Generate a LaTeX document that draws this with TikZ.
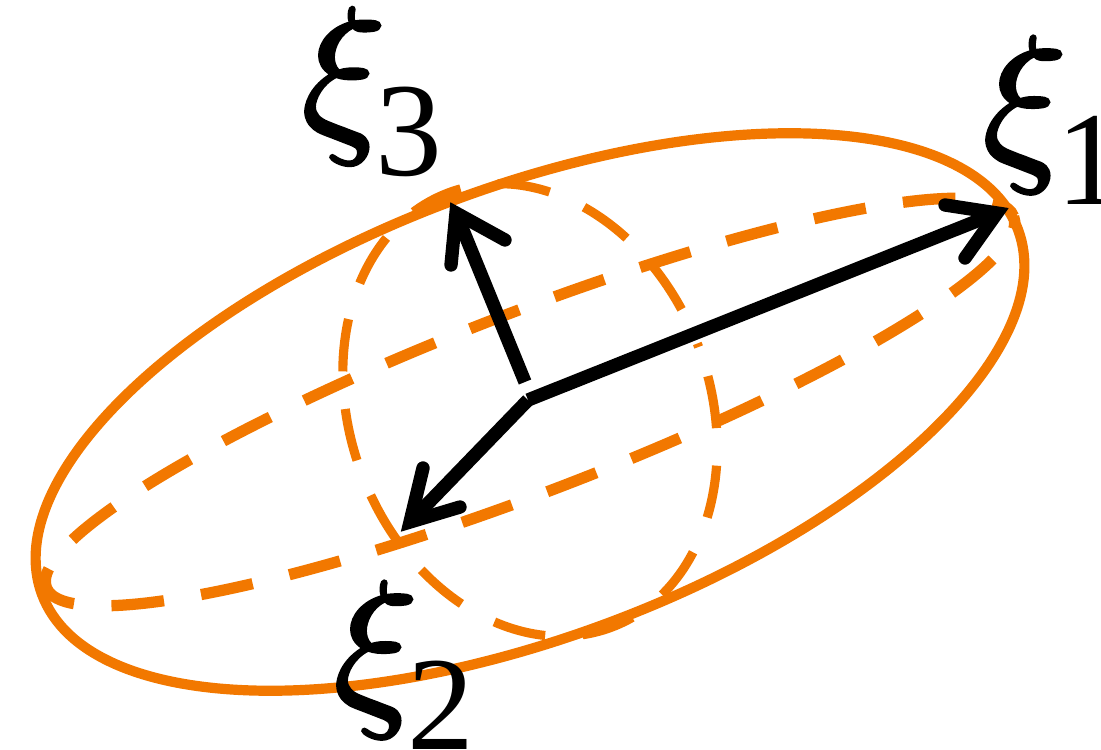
\documentclass[tikz,border=0pt]{standalone}
\usepackage{fontspec}
\setmainfont{Liberation Serif}
\newfontfamily\xifont[FakeBold=1.6]{Latin Modern Math}
\usepackage{tikz}
\definecolor{shellorange}{RGB}{242,120,0}
\newcommand{\xilabel}[1]{{\fontsize{50}{50}\xifont 𝜉}\kern-0.8pt\raisebox{-13pt}{\fontsize{38}{38}\selectfont #1}}
\tikzset{
  shell/.style={draw=shellorange, line width=2.9pt},
  dashshell/.style={draw=shellorange, line width=2.6pt, dash pattern=on 15pt off 10.7pt},
  axisarrow/.style={draw=black, line width=3.8pt},
  axistip/.style={draw=black, line width=3.8pt, line cap=round, miter limit=10},
}
\begin{document}
\begin{tikzpicture}[x=0.01cm,y=-0.01cm]
\useasboundingbox (0,0) rectangle (1101,749);
% ellipsoid
\draw [shell, rotate around={20.5:(530,412)}] (530,412) ellipse [x radius=521, y radius=225];
\draw [dashshell, line width=3.2pt, dash phase=11.4pt, rotate around={21:(530,402)}] (530,402) ellipse [x radius=518, y radius=90];
\draw [dashshell, dash phase=17pt, rotate around={20.5:(530,410)}] (530,410) ellipse [x radius=180, y radius=232];
% axes
\coordinate (origin) at (528,400);
\coordinate (tip1) at (997,213);
\coordinate (tip2) at (410,522);
\coordinate (tip3) at (456,213);
\coordinate (base3) at (525,382);
\draw [axisarrow] (origin) -- (tip1);
\draw [axisarrow] (origin) -- (tip2);
\draw [axisarrow] (base3) -- (tip3);
\draw [axistip] (945,205) -- (tip1) -- (965,258);
\draw [axistip] (460,507) -- (tip2) -- (423,468);
\draw [axistip] (505,240) -- (tip3) -- (451,265);
% labels
\node (xi1) at (1053,120) {\xilabel{1}};
\node (xi2) at (404,665) {\xilabel{2}};
\node (xi3) at (372,92) {\xilabel{3}};
\end{tikzpicture}
\end{document}
